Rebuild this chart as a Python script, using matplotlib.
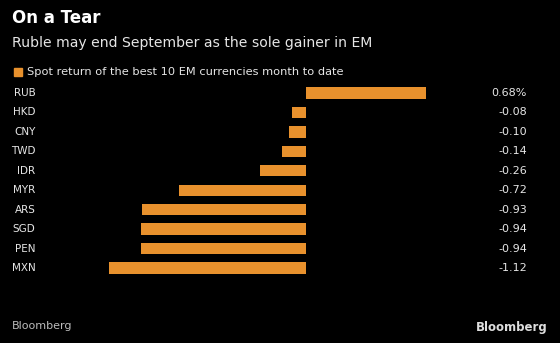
import matplotlib.pyplot as plt
import matplotlib.transforms as mtransforms
import numpy as np

currencies = ["RUB", "HKD", "CNY", "TWD", "IDR", "MYR", "ARS", "SGD", "PEN", "MXN"]
returns = [0.68, -0.08, -0.10, -0.14, -0.26, -0.72, -0.93, -0.94, -0.94, -1.12]
value_labels = ["0.68%", "-0.08", "-0.10", "-0.14", "-0.26", "-0.72", "-0.93", "-0.94", "-0.94", "-1.12"]

W, H = 560, 343
bg = "#000000"
orange = "#e8912d"
txt = "#e6e6e6"

fig = plt.figure(figsize=(W / 100, H / 100), dpi=100, facecolor=bg)
# axes placed so that -1.12 -> px 109, 0.68 -> px 426
ax = fig.add_axes([109 / W, 1 - 277.7 / H, (426 - 109) / W, (277.7 - 83.3) / H])
ax.set_facecolor(bg)

y = np.arange(len(currencies))
ax.barh(y, returns, height=0.58, color=orange)
ax.set_xlim(-1.12, 0.68)
ax.set_ylim(len(currencies) - 0.5, -0.5)
ax.axis("off")

# labels on left and right in figure-x / data-y coordinates
trans = mtransforms.blended_transform_factory(fig.transFigure, ax.transData)
for i, (c, v) in enumerate(zip(currencies, value_labels)):
    ax.text(35.5 / W, i, c, transform=trans, ha="right", va="center", color=txt, fontsize=7.5)
    ax.text(527 / W, i, v, transform=trans, ha="right", va="center", color=txt, fontsize=8)

fig.text(12 / W, 1 - 18 / H, "On a Tear", color="white", fontsize=12, fontweight="bold", va="center")
fig.text(12 / W, 1 - 43 / H, "Ruble may end September as the sole gainer in EM", color=txt, fontsize=10.1, va="center")
fig.patches.append(plt.Rectangle((14 / W, 1 - 76 / H), 8 / W, 8 / H, transform=fig.transFigure, color=orange))
fig.text(27 / W, 1 - 72 / H, "Spot return of the best 10 EM currencies month to date", color=txt, fontsize=8.2, va="center")

fig.text(12 / W, 1 - 326 / H, "Bloomberg", color="#bbbbbb", fontsize=8, va="center")
fig.text(548 / W, 1 - 328 / H, "Bloomberg", color="#dddddd", fontsize=8.5, fontweight="bold", va="center", ha="right")

fig.savefig("out.png", dpi=100, facecolor=bg)
